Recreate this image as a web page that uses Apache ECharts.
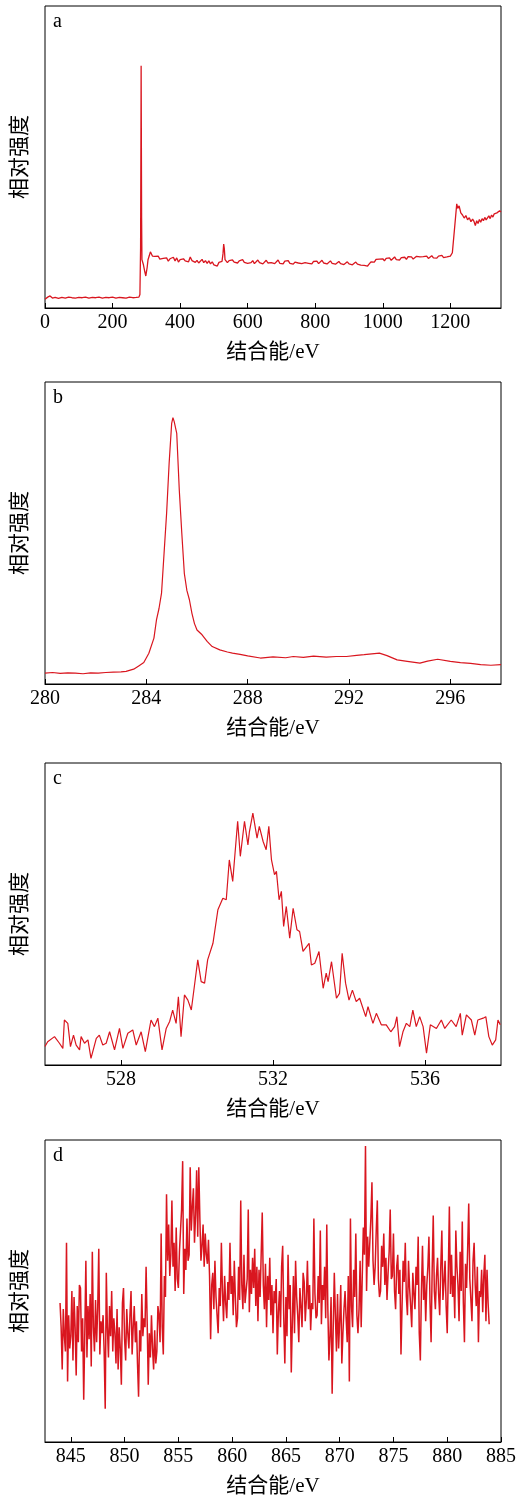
<!DOCTYPE html>
<html lang="zh">
<head>
    <meta charset="UTF-8">
    <title>XPS</title>
    <style>
        body { margin: 0; background: #fff; }
    </style>
</head>
<body>
<div id="main" style="width: 520px;height:1501px;"></div>
<script src="https://cdn.jsdelivr.net/npm/echarts@6/dist/echarts.min.js"></script>
<script type="text/javascript">
    // (a) 全谱  [结合能, 强度]
    var surveyData = [
        [0,2.9],[8,3.6],[15,4.0],[22,3.3],[30,3.5],[40,3.2],[50,3.5],[60,3.3],[70,3.6],[80,3.4],
        [90,3.3],[100,3.5],[110,3.4],[120,3.6],[130,3.3],[140,3.5],[150,3.4],[160,3.6],[170,3.3],[180,3.5],
        [190,3.4],[200,3.6],[210,3.3],[220,3.5],[230,3.4],[240,3.3],[250,3.6],[260,3.4],[270,3.5],[278,3.6],
        [281,4.5],[283,20],[284,55],[284.6,80.2],[285.3,55],[286,30],[287,16],[288.5,15.5],[291,14.5],[293,13.9],
        [295.5,12],[298.5,10.6],[300,10.8],[302.5,13.5],[305,16],[308.4,17.2],[312,18.6],[315.3,18.0],[318,17.2],[320.3,17.8],
        [325,17.1],[330,16.5],[335,17.2],[340,16.2],[345,16.8],[350,16.4],[355,15.8],[360,16.6],[365,15.5],[370,16.3],
        [375,15.9],[380,16.8],[385,15.6],[390,16.6],[395,15.2],[400,16.0],[405,15.4],[410,16.3],[415,15.6],[420,16.2],
        [425,15.3],[430,16.9],[435,15.7],[440,16.0],[445,15.1],[450,15.8],[455,14.9],[460,15.5],[465,16.1],[470,15.0],
        [475,15.7],[480,14.8],[485,15.6],[490,14.6],[495,15.3],[500,14.3],[505,14.8],[510,13.9],[515,15.1],[520,14.6],
        [524,15.4],[527,18],[529,21.2],[531,19.5],[533,16],[536,15.6],[540,15.0],[545,15.7],[550,15.1],[555,15.9],
        [560,15.2],[565,15.8],[570,14.9],[575,15.6],[580,15.3],[585,16.0],[590,15.1],[595,15.5],[600,14.8],[605,15.4],
        [610,15.0],[615,15.7],[620,14.7],[625,15.3],[630,15.9],[635,15.0],[640,15.5],[645,14.6],[650,15.2],[655,15.8],
        [660,14.9],[665,15.4],[670,15.0],[675,15.6],[680,14.7],[685,15.3],[690,15.9],[695,14.8],[700,15.2],[705,14.6],
        [710,15.5],[715,15.0],[720,15.7],[725,14.8],[730,15.3],[735,14.5],[740,15.2],[745,15.8],[750,14.9],[755,15.4],
        [760,14.7],[765,15.3],[770,15.0],[775,15.6],[780,14.8],[785,15.1],[790,14.6],[795,15.4],[800,14.9],[805,15.5],
        [810,14.7],[815,15.2],[820,15.8],[825,14.9],[830,15.3],[835,14.6],[840,15.1],[845,15.6],[850,14.8],[855,15.2],
        [860,14.5],[865,15.0],[870,15.4],[875,14.7],[880,15.1],[885,14.4],[890,14.9],[895,15.3],[900,14.6],[905,15.0],
        [910,14.3],[915,14.8],[920,15.2],[925,14.5],[930,14.9],[935,14.2],[940,14.7],[945,14.1],[950,14.4],[955,13.9],
        [960,14.6],[965,15.3],[970,15.8],[975,15.2],[980,16.1],[985,15.5],[990,16.2],[995,15.7],[1000,16.3],[1005,15.6],
        [1010,16.4],[1015,15.9],[1020,16.6],[1025,15.8],[1030,16.3],[1035,16.9],[1040,16.0],[1045,16.5],[1050,15.9],[1055,16.7],
        [1060,16.2],[1065,16.8],[1070,16.1],[1075,17.0],[1080,16.4],[1085,16.9],[1090,16.2],[1095,16.7],[1100,17.1],[1105,16.5],
        [1110,16.9],[1115,16.3],[1120,17.0],[1125,16.6],[1130,17.2],[1135,16.4],[1140,16.9],[1145,17.3],[1150,16.6],[1155,17.0],
        [1160,16.5],[1165,17.2],[1170,16.8],[1175,17.4],[1180,16.7],[1185,17.1],[1190,16.9],[1195,17.5],[1200,17.2],[1206,18.3],
        [1213,27],[1219,34.5],[1222,33.0],[1226,33.8],[1231,31.5],[1236,30.8],[1241,29.8],[1246,30.6],[1251,29.2],[1256,29.9],
        [1261,28.6],[1266,29.4],[1270,28.7],[1274,27.3],[1278,28.9],[1282,28.0],[1286,29.3],[1290,28.4],[1294,29.6],[1298,28.9],
        [1302,30.0],[1306,29.2],[1310,29.8],[1314,30.5],[1318,29.6],[1322,30.8],[1326,30.1],[1330,31.2],[1334,30.6],[1338,31.5],
        [1342,31.0],[1346,32.2],[1350,31.8]
    ];

    // (b) C 1s
    var c1sData = [
        [280.0,3.6],[280.3,3.8],[280.6,3.5],[280.9,3.7],[281.2,3.6],[281.5,3.4],[281.8,3.7],[282.1,3.6],[282.4,3.8],[282.7,3.9],
        [283.0,4.0],[283.2,4.2],[283.5,4.9],[283.7,6.0],[283.9,7.1],[284.1,10.2],[284.3,15.2],[284.4,21.2],[284.5,25.0],[284.6,30.1],
        [284.7,43.3],[284.8,56.5],[284.9,73.1],[285.0,86.3],[285.05,88.2],[285.1,86.9],[285.2,83.0],[285.3,64.3],[285.4,49.9],[285.5,36.6],
        [285.6,31.0],[285.7,27.9],[285.8,23.4],[285.9,20.0],[286.0,17.9],[286.2,16.3],[286.4,14.1],[286.6,12.4],[286.9,11.3],[287.2,10.6],
        [287.4,10.2],[287.7,9.8],[288.0,9.3],[288.5,8.6],[289.0,9.0],[289.5,8.7],[289.8,9.1],[290.2,8.8],[290.6,9.2],[291.1,8.9],
        [291.5,9.1],[291.9,9.1],[292.3,9.5],[292.6,9.7],[292.9,10.0],[293.2,10.2],[293.5,9.4],[293.9,8.0],[294.3,7.5],[294.8,6.9],
        [295.1,7.6],[295.5,8.2],[296.0,7.5],[296.4,7.1],[296.8,6.8],[297.2,6.4],[297.6,6.2],[298.0,6.4]
    ];

    // (c) O 1s
    var o1sData = [
        [526.00,6.1],[526.07,7.7],[526.25,9.4],[526.38,7.2],[526.47,5.5],[526.51,14.9],[526.60,13.8],[526.67,6.1],[526.75,9.9],[526.82,6.6],
        [526.91,5.0],[526.95,9.4],[527.04,7.2],[527.13,8.3],[527.21,2.2],[527.35,8.8],[527.43,9.9],[527.52,6.6],[527.61,7.2],[527.70,11.0],
        [527.83,5.0],[527.96,12.1],[528.05,5.5],[528.18,10.5],[528.31,11.6],[528.40,6.6],[528.53,11.0],[528.64,4.4],[528.79,14.9],[528.88,12.7],
        [528.97,15.5],[529.08,5.0],[529.19,12.1],[529.28,14.4],[529.36,18.2],[529.45,13.8],[529.51,22.6],[529.58,9.4],[529.67,23.2],[529.76,21.5],
        [529.85,18.2],[529.93,26.0],[530.02,34.8],[530.11,27.6],[530.20,27.1],[530.28,34.8],[530.42,40.3],[530.55,51.4],[530.68,55.2],[530.77,54.7],
        [530.85,67.9],[530.94,60.8],[531.07,80.7],[531.14,69.1],[531.25,80.7],[531.34,72.9],[531.38,77.3],[531.47,83.4],[531.58,75.1],[531.64,79.0],
        [531.74,74.0],[531.82,71.3],[531.89,79.0],[531.96,67.9],[532.04,63.0],[532.09,64.1],[532.16,54.7],[532.22,57.5],[532.28,45.9],[532.35,52.5],
        [532.44,42.0],[532.53,51.9],[532.63,44.8],[532.70,44.2],[532.79,37.6],[532.95,40.3],[533.01,33.1],[533.10,33.7],[533.21,37.6],[533.32,25.4],
        [533.40,30.4],[533.45,27.6],[533.54,34.2],[533.67,22.1],[533.75,23.7],[533.82,37.0],[533.91,27.1],[534.00,21.5],[534.09,24.8],[534.19,21.0],
        [534.28,22.1],[534.44,16.0],[534.50,19.3],[534.63,13.8],[534.72,17.1],[534.85,13.3],[534.98,13.3],[535.10,11.0],[535.20,12.7],[535.26,16.0],
        [535.33,6.1],[535.42,11.0],[535.51,13.8],[535.60,12.7],[535.68,18.2],[535.77,12.7],[535.86,16.0],[535.95,12.7],[536.04,3.9],[536.14,13.3],
        [536.30,12.1],[536.43,14.9],[536.52,12.1],[536.69,14.9],[536.82,12.7],[536.93,17.1],[536.98,9.9],[537.09,16.6],[537.22,14.9],[537.31,9.9],
        [537.39,14.9],[537.53,15.5],[537.60,16.0],[537.68,9.4],[537.77,6.6],[537.86,8.3],[537.92,14.9],[537.98,13.3]
    ];

    // (d) Ni 2p, 844.0 eV 起, 步长 0.1 eV
    var ni2pStart = 844.0;
    var ni2pStep = 0.1;
    var ni2pIntensity = [
        46,38,24,44,35,30,66,20,42,31,35,50,27,48,38,22,45,33,52,51,
        30,41,14,36,60,28,45,34,49,25,63,38,30,47,33,44,64,29,40,36,
        42,30,11,56,38,28,45,35,50,30,41,36,26,44,24,38,31,19,46,51,
        34,27,44,36,31,42,50,29,38,45,33,40,26,15,37,30,49,35,41,38,
        58,40,19,36,28,42,31,24,37,26,30,45,42,33,69,38,29,55,48,82,
        60,72,55,62,80,58,66,50,71,54,51,63,70,77,93,49,64,57,74,60,
        62,91,70,78,84,66,75,90,68,91,74,60,65,72,58,69,62,59,67,55,
        34,52,56,44,60,48,42,36,51,45,66,50,40,55,46,41,53,47,66,49,
        55,42,60,48,38,41,58,47,80,52,44,62,46,50,54,77,43,57,49,61,
        51,64,45,58,40,57,48,62,76,52,44,59,38,55,47,61,42,52,36,50,
        46,54,29,43,50,38,58,65,41,26,48,35,62,44,52,23,40,55,36,60,
        48,42,33,51,45,38,56,53,40,47,60,44,52,37,46,44,74,49,41,42,
        55,46,70,39,52,47,58,41,72,44,27,35,48,16,38,56,42,30,49,31,
        40,52,26,36,44,50,41,33,55,20,74,45,38,57,48,69,42,36,44,60,
        38,55,71,62,98,50,68,58,66,74,86,60,52,58,70,80,54,48,50,65,
        58,69,52,61,47,56,63,77,54,55,69,50,44,58,62,49,57,29,45,60,
        53,66,48,42,60,51,45,38,56,49,44,58,52,68,36,27,50,65,47,55,
        40,52,58,68,46,33,57,75,50,44,55,61,49,42,58,70,47,53,60,45,
        36,56,78,49,62,48,55,41,70,58,52,40,63,50,73,46,33,59,51,64,
        79,54,47,40,60,66,52,45,58,33,50,48,57,43,55,62,40,57,46,39
    ];

    // 坐标轴刻度
    var surveyTicks = [0, 200, 400, 600, 800, 1000, 1200];
    var c1sTicks = [280, 284, 288, 292, 296];
    var o1sTicks = [528, 532, 536];
    var ni2pTicks = [845, 850, 855, 860, 865, 870, 875, 880, 885];

    var panelLetters = ['a', 'b', 'c', 'd'];

    var ni2pData = [];
    for (var i = 0; i < ni2pIntensity.length; i++) {
        ni2pData.push([ni2pStart + i * ni2pStep, ni2pIntensity[i]]);
    }

    var FONT = "'Liberation Serif', 'Noto Sans CJK SC', serif";
    var RED = '#d9161f';

    var panels = [
        {data: surveyData, ticks: surveyTicks, min: 0, max: 1350, top: 6, lw: 1.3},
        {data: c1sData, ticks: c1sTicks, min: 280, max: 298, top: 382, lw: 1.2},
        {data: o1sData, ticks: o1sTicks, min: 526, max: 538, top: 763, lw: 1.2},
        {data: ni2pData, ticks: ni2pTicks, min: 842.6, max: 885, top: 1140, lw: 1.5}
    ];

    var grids = [], xAxes = [], yAxes = [], series = [], graphics = [];
    panels.forEach(function (p, k) {
        grids.push({
            left: 45, right: 19, top: p.top, height: 302,
            show: true, borderColor: '#000', borderWidth: 1, backgroundColor: 'transparent'
        });
        xAxes.push({
            gridIndex: k, type: 'value', min: p.min, max: p.max,
            axisLine: {show: true, onZero: false, lineStyle: {color: '#000', width: 1}},
            axisTick: {show: true, inside: true, length: 5, customValues: p.ticks, lineStyle: {color: '#000', width: 1}},
            axisLabel: {
                customValues: p.ticks, fontFamily: FONT, fontSize: 20, color: '#000', margin: 5,
                formatter: function (v) { return String(v); }
            },
            splitLine: {show: false},
            name: '结合能/eV', nameLocation: 'middle', nameGap: 34,
            nameTextStyle: {fontFamily: FONT, fontSize: 21, color: '#000'}
        });
        yAxes.push({
            gridIndex: k, type: 'value', min: 0, max: 100,
            axisLine: {show: false}, axisTick: {show: false}, axisLabel: {show: false},
            splitLine: {show: false},
            name: '相对强度', nameLocation: 'middle', nameGap: 14,
            nameTextStyle: {fontFamily: FONT, fontSize: 21, color: '#000'}
        });
        series.push({
            type: 'line', xAxisIndex: k, yAxisIndex: k,
            data: p.data, showSymbol: false, symbol: 'none',
            lineStyle: {color: RED, width: p.lw}, silent: true
        });
        graphics.push({
            type: 'text', left: 53, top: p.top + 6,
            style: {text: panelLetters[k], font: "20px 'Liberation Serif', serif", fill: '#000'}
        });
    });

    var myChart = echarts.init(document.getElementById('main'));
    myChart.setOption({
        animation: false,
        grid: grids,
        xAxis: xAxes,
        yAxis: yAxes,
        series: series,
        graphic: graphics
    });
</script>
</body>
</html>
